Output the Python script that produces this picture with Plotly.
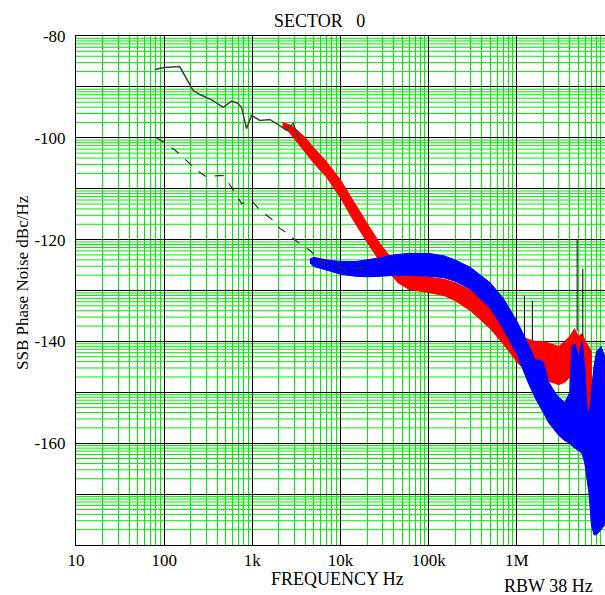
import math
import plotly.graph_objects as go

# ---------------- data ----------------
# upper (solid, dark) trace at low offsets
upper_f = [78, 100, 150, 213, 254, 350, 467, 581, 680, 754, 859, 979, 1216, 1578, 2000, 2440, 2900, 3450]
upper_v = [-86.6, -86.2, -86.0, -90.7, -91.5, -92.6, -94.0, -92.8, -93.2, -94.0, -98.2, -95.6, -96.6, -96.4, -97.5, -98.5, -97.2, -100.5]

# lower (dashed) trace at low offsets
lower_f = [82, 97.5, 130, 164, 233, 303, 380, 467, 581, 754, 979, 1216, 1720, 2050, 2500, 2900, 3600, 4480, 5820, 7540, 11700, 18000]
lower_v = [-100.0, -100.8, -102.3, -103.8, -106.4, -107.7, -107.5, -107.4, -109.7, -112.9, -112.3, -114.2, -116.2, -117.8, -118.8, -119.8, -121.0, -122.1, -124.1, -124.7, -126.0, -125.4]

# red noisy band: frequency, upper edge, lower edge
red_f = [2200, 2600, 3000, 4000, 5000, 7000, 10000, 14000, 20000, 28000, 36000, 45000,
         60000, 80000, 100000, 150000, 200000, 300000, 500000, 700000, 1.0e6, 1.3e6, 1.6e6, 2.0e6,
         2.5e6, 3.0e6, 3.5e6, 4.0e6, 4.5e6, 5.0e6, 5.5e6, 6.0e6, 6.5e6, 7.0e6]
red_hi = [-97.0, -97.4, -98.0, -100.0, -102.0, -104.8, -108.3, -112.5, -116.8, -120.8, -123.3, -125.3,
          -126.8, -127.2, -127.4, -127.8, -128.5, -130.0, -133.0, -135.5, -138.5, -139.5, -140.0, -140.0,
          -140.5, -141.0, -140.0, -139.0, -137.5, -139.0, -138.5, -140.0, -141.0, -142.0]
red_lo = [-98.0, -98.8, -100.2, -103.0, -105.0, -107.8, -111.8, -116.2, -120.5, -124.3, -126.6, -128.5,
          -129.8, -130.2, -130.4, -131.0, -132.0, -134.0, -137.5, -140.5, -144.0, -146.0, -147.0, -147.5,
          -148.0, -148.5, -148.0, -147.0, -146.5, -147.0, -150.0, -158.0, -163.0, -165.0]

# blue noisy band: frequency, upper edge, lower edge
blue_f = [4500, 5000, 7000, 10000, 15000, 20000, 30000, 40000, 60000, 100000, 150000, 200000, 300000,
          500000, 700000, 1.0e6, 1.3e6, 1.6e6, 2.0e6, 2.3e6, 2.7e6, 3.0e6, 3.5e6, 4.0e6, 4.2e6, 4.6e6,
          5.0e6, 5.5e6, 5.9e6, 6.2e6, 6.6e6, 7.0e6, 7.5e6, 8.0e6, 9.0e6, 10.0e6]
blue_hi = [-123.8, -123.5, -124.0, -124.3, -124.3, -124.0, -123.5, -123.0, -122.7, -122.7, -123.2, -124.0, -125.5,
           -128.5, -131.5, -136.0, -140.0, -143.5, -144.0, -148.0, -150.0, -151.0, -152.0, -150.0, -141.0, -140.5,
           -143.0, -140.0, -145.0, -152.0, -155.0, -150.0, -145.0, -142.0, -141.0, -143.0]
blue_lo = [-124.6, -125.3, -126.0, -126.8, -127.2, -127.3, -127.2, -127.0, -127.0, -127.2, -127.5, -128.2, -129.8,
           -133.5, -137.5, -142.5, -147.5, -151.0, -154.0, -156.0, -157.5, -158.5, -159.5, -160.0, -160.5, -161.0,
           -161.5, -162.0, -164.0, -167.0, -170.0, -176.0, -178.0, -178.0, -177.0, -176.0]

# discrete spurs: frequency, top, bottom
spur_f = [1.22e6, 1.5e6, 4.83e6, 5.6e6]
spur_top = [-131.0, -132.0, -120.0, -125.7]
spur_bot = [-139.0, -140.0, -138.0, -139.0]

x_tick_vals = [10, 100, 1000, 10000, 100000, 1000000, 10000000]
x_tick_text = ["10", "100", "1k", "10k", "100k", "1M", ""]
y_tick_vals = [-170, -160, -150, -140, -130, -120, -110, -100, -90, -80]
y_tick_text = ["", "-160", "", "-140", "", "-120", "", "-100", "", "-80"]

FONT = "Liberation Serif, Times New Roman, serif"
GREEN = "#00ee00"

# minor grid positions
x_minor = [k * 10 ** d for d in range(1, 7) for k in range(2, 10)]
y_minor = []
for top in range(-80, -180, -10):
    for k in range(2, 10):
        y_minor.append(top - 10 * (1 - math.log10(k)))

fig = go.Figure()

# red band
fig.add_trace(go.Scatter(
    x=red_f + red_f[::-1], y=red_hi + red_lo[::-1],
    fill="toself", fillcolor="#ff0000", mode="lines",
    line=dict(color="#ff0000", width=1), hoverinfo="skip", showlegend=False))

# blue band
fig.add_trace(go.Scatter(
    x=blue_f + blue_f[::-1], y=blue_hi + blue_lo[::-1],
    fill="toself", fillcolor="#0000ff", mode="lines",
    line=dict(color="#0000ff", width=1), hoverinfo="skip", showlegend=False))

# upper solid trace
fig.add_trace(go.Scatter(x=upper_f, y=upper_v, mode="lines",
                         line=dict(color="#404040", width=1.5), showlegend=False))

# lower dashed trace
fig.add_trace(go.Scatter(x=lower_f, y=lower_v, mode="lines",
                         line=dict(color="#303030", width=1.2, dash="dash"), showlegend=False))

# spurs
sx, sy = [], []
for f, t, b in zip(spur_f, spur_top, spur_bot):
    sx += [f, f, None]
    sy += [b, t, None]
fig.add_trace(go.Scatter(x=sx, y=sy, mode="lines",
                         line=dict(color="#000000", width=1), showlegend=False))

W, H = 605, 595
L, T, Rm, B = 76, 36, 0, 50
pw, ph = W - L - Rm, H - T - B


def px(xp):
    return (xp - L) / pw


def py(yp):
    return (H - B - yp) / ph


# horizontal green minor grid as shapes (below traces)
shapes = [dict(type="line", xref="paper", yref="y", x0=0, x1=1, y0=v, y1=v,
               line=dict(color=GREEN, width=1), layer="below") for v in y_minor]

fig.update_layout(
    width=W, height=H,
    margin=dict(l=L, r=Rm, t=T, b=B, autoexpand=False),
    paper_bgcolor="white", plot_bgcolor="white",
    font=dict(family=FONT, size=17, color="black"),
    showlegend=False,
    shapes=shapes,
    xaxis=dict(
        type="log", range=[1, 7], automargin=False,
        tickmode="array", tickvals=x_tick_vals, ticktext=x_tick_text,
        ticks="", showgrid=True, gridcolor="black", gridwidth=1,
        showline=True, linecolor="black", linewidth=1, mirror=True,
        zeroline=False,
        minor=dict(tickmode="array", tickvals=x_minor, showgrid=True,
                   gridcolor=GREEN, gridwidth=1, ticks=""),
        tickfont=dict(family=FONT, size=17),
    ),
    yaxis=dict(
        range=[-180, -80], automargin=False,
        tickmode="array", tickvals=y_tick_vals, ticktext=y_tick_text,
        ticks="", showgrid=True, gridcolor="black", gridwidth=1,
        showline=True, linecolor="black", linewidth=1, mirror=False,
        zeroline=False, ticklabelstandoff=6,
        tickfont=dict(family=FONT, size=17),
    ),
    annotations=[
        dict(text="SECTOR&nbsp;&nbsp;&nbsp;0", x=px(319), y=py(21), xref="paper", yref="paper",
             xanchor="center", yanchor="middle", showarrow=False, font=dict(family=FONT, size=18)),
        dict(text="FREQUENCY Hz", x=px(337), y=py(579), xref="paper", yref="paper",
             xanchor="center", yanchor="middle", showarrow=False, font=dict(family=FONT, size=18)),
        dict(text="RBW 38 Hz", x=px(548), y=py(586), xref="paper", yref="paper",
             xanchor="center", yanchor="middle", showarrow=False, font=dict(family=FONT, size=18)),
        dict(text="SSB Phase Noise dBc/Hz", x=px(22), y=py(283), xref="paper", yref="paper",
             xanchor="center", yanchor="middle", textangle=-90, showarrow=False,
             font=dict(family=FONT, size=17)),
    ],
)

# remove the default 8px page margin so the figure fills the window exactly
fig.write_html("out.html", config={"displayModeBar": False},
               post_script="document.body.style.margin='0px';document.body.style.overflow='hidden';")
